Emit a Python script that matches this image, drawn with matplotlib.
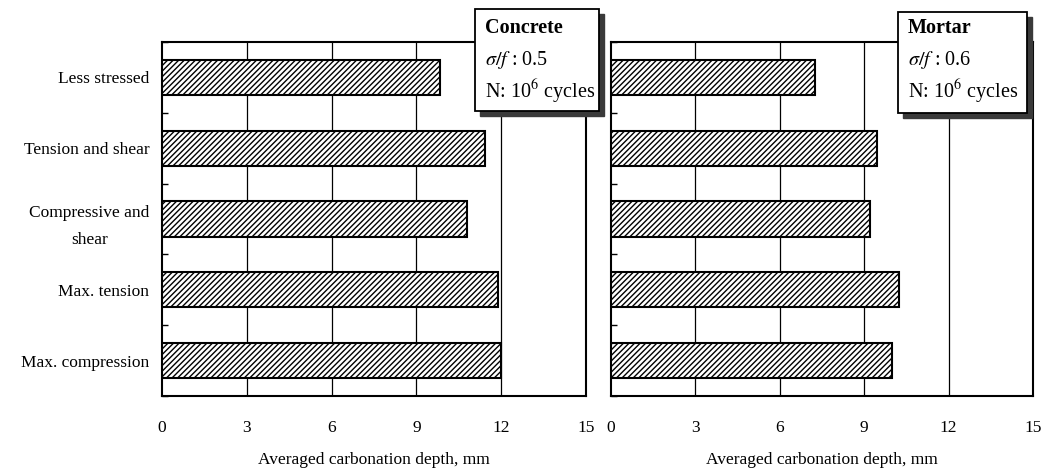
import numpy as np
import matplotlib
matplotlib.use("Agg")
import matplotlib.pyplot as plt
from matplotlib.patches import Rectangle

plt.rcParams['font.family'] = ['Liberation Serif', 'DejaVu Serif']
plt.rcParams['mathtext.fontset'] = 'stix'
plt.rcParams['hatch.linewidth'] = 1.0

categories = ["Less stressed", "Tension and shear", "Compressive and\nshear",
              "Max. tension", "Max. compression"]
concrete = [9.83, 11.43, 10.78, 11.9, 12.0]
mortar = [7.25, 9.44, 9.2, 10.25, 10.0]
xticks = [0, 3, 6, 9, 12, 15]

W, H = 1042, 470
fig = plt.figure(figsize=(W / 100, H / 100), dpi=100)


def fr(x0, y0, x1, y1):
    # pixel box (top-left origin) -> figure fraction [left, bottom, width, height]
    return [x0 / W, 1 - y1 / H, (x1 - x0) / W, (y1 - y0) / H]


ax1 = fig.add_axes(fr(162, 42, 586, 396))
ax2 = fig.add_axes(fr(611, 42, 1033, 396))

for ax, vals in [(ax1, concrete), (ax2, mortar)]:
    y = np.arange(len(categories))
    ax.barh(y, vals, height=0.5, color="white", edgecolor="black",
            hatch="//////", linewidth=1.5, zorder=3)
    ax.set_xlim(0, 15)
    ax.set_ylim(len(categories) - 0.5, -0.5)
    ax.set_xticks(xticks)
    ax.set_xticklabels([str(t) for t in xticks], fontsize=12.5)
    ax.tick_params(axis="x", length=0, pad=17)
    ax.set_yticks(y)
    ax.tick_params(axis="y", length=0, pad=9, labelsize=12.5)
    ax.set_yticks(np.arange(len(categories) + 1) - 0.5, minor=True)
    ax.tick_params(axis="y", which="minor", direction="in", length=4, width=1)
    for g in xticks[1:-1]:
        ax.axvline(g, color="black", linewidth=0.9, zorder=1)
    for s in ax.spines.values():
        s.set_linewidth(1.5)
    ax.set_xlabel("Averaged carbonation depth, mm", fontsize=12.5, labelpad=12)

ax1.set_yticklabels(categories)
for lbl in ax1.get_yticklabels():
    lbl.set_multialignment("center")
    lbl.set_linespacing(1.9)
ax2.set_yticklabels([])


def info_box(x0, y0, x1, y1, title, ratio):
    sh = 5
    fig.patches.append(Rectangle(fr(x0 + sh, y0 + sh, x1 + sh, y1 + sh)[:2],
                                 (x1 - x0) / W, (y1 - y0) / H,
                                 transform=fig.transFigure, facecolor="#3a3a3a",
                                 edgecolor="#3a3a3a", zorder=10))
    fig.patches.append(Rectangle(fr(x0, y0, x1, y1)[:2],
                                 (x1 - x0) / W, (y1 - y0) / H,
                                 transform=fig.transFigure, facecolor="white",
                                 edgecolor="black", linewidth=1.3, zorder=11))
    tx = (x0 + 10) / W
    fig.text(tx, 1 - 28 / H, title, fontsize=14.5, fontweight="bold",
             va="center", ha="left", zorder=12)
    fig.text(tx, 1 - 60 / H, r"$\sigma/f$" + " : " + ratio, fontsize=14.5,
             va="center", ha="left", zorder=12)
    fig.text(tx, 1 - 92 / H, r"N: 10$^6$ cycles", fontsize=14.5,
             va="center", ha="left", zorder=12)


info_box(475, 9, 599, 111, "Concrete", "0.5")
info_box(898, 12, 1027, 113, "Mortar", "0.6")

fig.savefig("out.png", dpi=100)
